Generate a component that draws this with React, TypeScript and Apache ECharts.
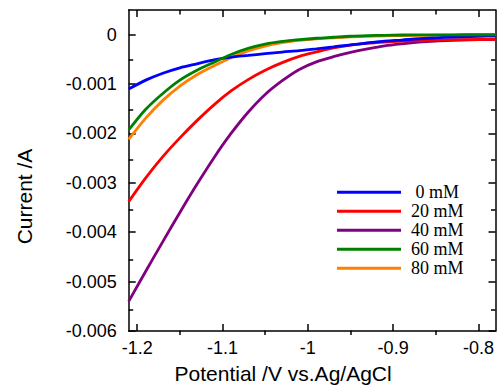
import React, { useEffect, useRef } from "react";
import * as echarts from "echarts";

const potentials = [-1.21, -1.19, -1.17, -1.15, -1.13, -1.11, -1.09, -1.07, -1.05, -1.03, -1.01, -0.99, -0.97, -0.95, -0.93, -0.91, -0.89, -0.87, -0.85, -0.83, -0.81, -0.79, -0.78];
const current0mM = [-0.0011, -0.00092, -0.00078, -0.00067, -0.00059, -0.000512, -0.000456, -0.00042, -0.000384, -0.000352, -0.000324, -0.000288, -0.000248, -0.000204, -0.000168, -0.000132, -0.000108, -0.000082, -0.000064, -0.000048, -0.000038, -0.00003, -0.000026];
const current20mM = [-0.00338, -0.0029, -0.00247, -0.00209, -0.00174, -0.00142, -0.00114, -0.00091, -0.00072, -0.000566, -0.00044, -0.00035, -0.000266, -0.00021, -0.000172, -0.000148, -0.00013, -0.000118, -0.000108, -0.000102, -0.000098, -0.000096, -0.000094];
const current40mM = [-0.0054, -0.00479, -0.00419, -0.0036, -0.00303, -0.00249, -0.002, -0.00157, -0.00121, -0.000932, -0.000704, -0.00055, -0.000446, -0.00036, -0.000288, -0.000226, -0.000184, -0.00015, -0.000128, -0.000114, -0.000104, -0.000098, -0.000096];
const current60mM = [-0.00193, -0.00151, -0.00119, -0.00092, -0.00072, -0.000556, -0.0004, -0.000276, -0.00019, -0.000136, -0.0001, -0.000072, -0.000052, -0.000032, -0.00002, -0.000012, -0.000006, -0.000004, -0.000002, -0.000002, -0.000001, -0.000001, -0.000001];
const current80mM = [-0.00212, -0.00169, -0.00133, -0.00104, -0.00081, -0.00063, -0.000466, -0.00033, -0.00023, -0.00016, -0.000116, -0.000086, -0.000064, -0.000046, -0.000034, -0.000024, -0.000018, -0.000014, -0.00001, -0.000008, -0.000006, -0.000006, -0.000006];

const seriesNames = [" 0 mM", "20 mM", "40 mM", "60 mM", "80 mM"];
const seriesColors = ["#0000ff", "#ff0000", "#800080", "#008000", "#ff8000"];
const seriesValues = [current0mM, current20mM, current40mM, current60mM, current80mM];
// drawing order (last on top)
const drawOrder = [4, 2, 1, 0, 3];

const xTickValues = [-1.2, -1.1, -1, -0.9, -0.8];
const xMinorTickValues = [-1.15, -1.05, -0.95, -0.85];
const yTickValues = [0, -0.001, -0.002, -0.003, -0.004, -0.005, -0.006];
const yMinorTickValues = [-0.0005, -0.0015, -0.0025, -0.0035, -0.0045, -0.0055];

const xTitle = "Potential /V vs.Ag/AgCl";
const yTitle = "Current /A";

export default function App() {
  const ref = useRef<HTMLDivElement>(null);
  useEffect(() => {
    if (!ref.current) return;
    const chart = echarts.init(ref.current, null, { renderer: "svg" });
    const gridBox = { left: 128.7, right: 1.5, top: 10, bottom: 54 };
    const black = "#000";
    const lineStyle = { color: black, width: 1.5 };
    const xMin = -1.21, xMax = -0.78, yMin = -0.006, yMax = 0.0005;
    const majorX = (pos: string, withLabel: boolean) => ({
      gridIndex: 0,
      type: "value",
      position: pos,
      min: xMin,
      max: xMax,
      axisLine: { show: true, onZero: false, lineStyle },
      axisTick: { show: true, inside: true, length: 7, customValues: xTickValues, lineStyle },
      axisLabel: withLabel
        ? { show: true, customValues: xTickValues, color: black, fontFamily: "Liberation Sans", fontSize: 18, margin: 8 }
        : { show: false },
      splitLine: { show: false },
      ...(withLabel
        ? {
            name: xTitle,
            nameLocation: "middle",
            nameGap: 32,
            nameTextStyle: { color: black, fontFamily: "Liberation Sans", fontSize: 21, padding: [0, 58, 0, 0] },
          }
        : {}),
    });
    const minorX = (pos: string) => ({
      gridIndex: 1,
      type: "value",
      position: pos,
      min: xMin,
      max: xMax,
      axisLine: { show: false, onZero: false },
      axisTick: { show: true, inside: true, length: 4.5, customValues: xMinorTickValues, lineStyle },
      axisLabel: { show: false },
      splitLine: { show: false },
    });
    const majorY = (pos: string, withLabel: boolean) => ({
      gridIndex: 0,
      type: "value",
      position: pos,
      min: yMin,
      max: yMax,
      axisLine: { show: true, onZero: false, lineStyle },
      axisTick: { show: true, inside: true, length: 7, customValues: yTickValues, lineStyle },
      axisLabel: withLabel
        ? { show: true, customValues: yTickValues, color: black, fontFamily: "Liberation Sans", fontSize: 18, margin: 12 }
        : { show: false },
      splitLine: { show: false },
      ...(withLabel
        ? {
            name: yTitle,
            nameLocation: "middle",
            nameGap: 94,
            nameTextStyle: { color: black, fontFamily: "Liberation Sans", fontSize: 21, padding: [0, 52, 0, 0] },
          }
        : {}),
    });
    const minorY = (pos: string) => ({
      gridIndex: 1,
      type: "value",
      position: pos,
      min: yMin,
      max: yMax,
      axisLine: { show: false, onZero: false },
      axisTick: { show: true, inside: true, length: 4.5, customValues: yMinorTickValues, lineStyle },
      axisLabel: { show: false },
      splitLine: { show: false },
    });

    chart.setOption({
      animation: false,
      backgroundColor: "#fff",
      textStyle: { fontFamily: "Liberation Sans" },
      grid: [
        { ...gridBox, containLabel: false },
        { ...gridBox, containLabel: false },
      ],
      xAxis: [majorX("bottom", true), majorX("top", false), minorX("bottom"), minorX("top")],
      yAxis: [majorY("left", true), majorY("right", false), minorY("left"), minorY("right")],
      legend: {
        data: seriesNames,
        orient: "vertical",
        left: 337,
        top: 183.3,
        icon: "rect",
        itemWidth: 64,
        itemHeight: 3,
        itemGap: 1,
        padding: 0,
        textStyle: { fontFamily: "Liberation Serif", fontSize: 18, color: black, padding: [0, 0, 0, 5] },
      },
      series: drawOrder.map((i) => ({
        type: "line",
        name: seriesNames[i],
        xAxisIndex: 0,
        yAxisIndex: 0,
        data: potentials.map((x, k) => [x, seriesValues[i][k]]),
        showSymbol: false,
        symbol: "none",
        smooth: 0.3,
        color: seriesColors[i],
        itemStyle: { color: seriesColors[i] },
        lineStyle: { color: seriesColors[i], width: 2.8 },
        emphasis: { disabled: true },
      })),
    });
    return () => chart.dispose();
  }, []);
  return <div ref={ref} style={{ position: "fixed", left: 0, top: 0, width: 497, height: 389 }} />;
}
